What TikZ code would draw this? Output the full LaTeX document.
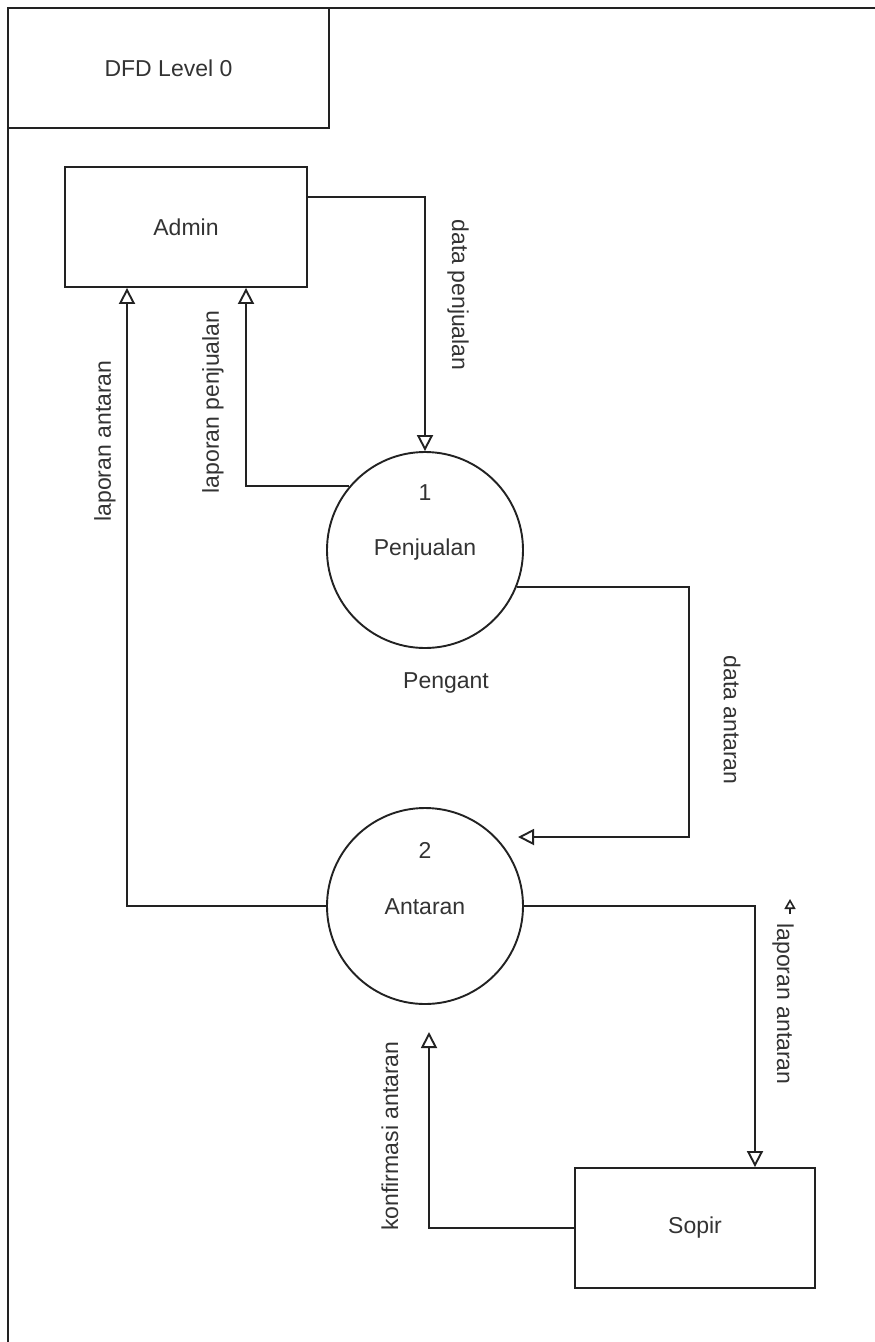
\documentclass[tikz,border=0pt]{standalone}
\usepackage{fontspec}
\setmainfont{Liberation Sans}
\usetikzlibrary{arrows.meta}
\definecolor{ink}{HTML}{222222}
\definecolor{txt}{HTML}{333333}
\tikzset{
  box/.style={draw=ink, line width=1.9pt, rectangle, minimum width=242pt, minimum height=120pt, inner sep=0pt, text=txt, font=\fontsize{23}{26}\selectfont},
  proc/.style={draw=ink, line width=1.9pt, circle, minimum size=196pt, inner sep=0pt},
  lbl/.style={text=txt, font=\fontsize{23}{26}\selectfont, inner sep=0pt},
  flow/.style={draw=ink, line width=1.9pt, -{Triangle[open, length=16pt, width=16pt, line width=1.9pt]}},
}
\begin{document}
\begin{tikzpicture}[x=1pt, y=-1pt]
\useasboundingbox (0,0) rectangle (875,1342);
\fill[white] (0,0) rectangle (875,1342);

% page frame
\coordinate (frTR) at (875,8);
\coordinate (frTL) at (8,8);
\coordinate (frBL) at (8,1342);
\draw[ink, line width=1.9pt] (frTR) -- (frTL) -- (frBL);

% title block
\node[box, minimum width=321pt, minimum height=120pt] (title) at (168.5,68) {DFD Level 0};

% external entities
\node[box] (admin) at (186,227) {Admin};
\node[box, minimum width=240pt] (sopir) at (695,1228) {Sopir};

% processes
\node[proc] (p1) at (425,550) {};
\node[proc] (p2) at (425,906) {};
\node[lbl] (p1num) at (425,493) {1};
\node[lbl] (p1name) at (425,550) {Penjualan};
\node[lbl] (p2num) at (425,850) {2};
\node[lbl] (p2name) at (425,907) {Antaran};
\node[lbl] (extra) at (446,683) {Pengant};

% data flows
\draw[flow] ([yshift=30pt]admin.east) -| (p1.north);
\draw[flow] (p1.140.8) -| ([xshift=60pt]admin.south);
\draw[flow] (p2.west) -| ([xshift=-59pt]admin.south);

\coordinate (daBend) at (689,837);
\coordinate (daEnd) at (518,837);
\draw[flow] (p1.-22.8) -| (daBend) -- (daEnd);

\draw[flow] (p2.east) -| ([xshift=60pt]sopir.north);

\coordinate (kaEnd) at (429,1032);
\draw[flow] (sopir.west) -| (kaEnd);

% flow labels
\node[lbl, rotate=-90] (lDataPenj) at (458,295) {data penjualan};
\node[lbl, rotate=90] (lLapPenj) at (213,402) {laporan penjualan};
\node[lbl, rotate=90] (lLapAntL) at (105,441) {laporan antaran};
\node[lbl, rotate=-90] (lDataAnt) at (732,720) {data antaran};
\node[lbl, rotate=-90] (lLapAntR) at (783,1004) {laporan antaran};
\node[lbl, rotate=90] (lKonf) at (390,1136) {konfirmasi antaran};

% small stray arrow tip beside the label
\coordinate (stA) at (790,914);
\coordinate (stB) at (790,899);
\draw[ink, line width=1.6pt, -{Triangle[open, length=10pt, width=11pt, line width=1.6pt]}] (stA) -- (stB);
\end{tikzpicture}
\end{document}
